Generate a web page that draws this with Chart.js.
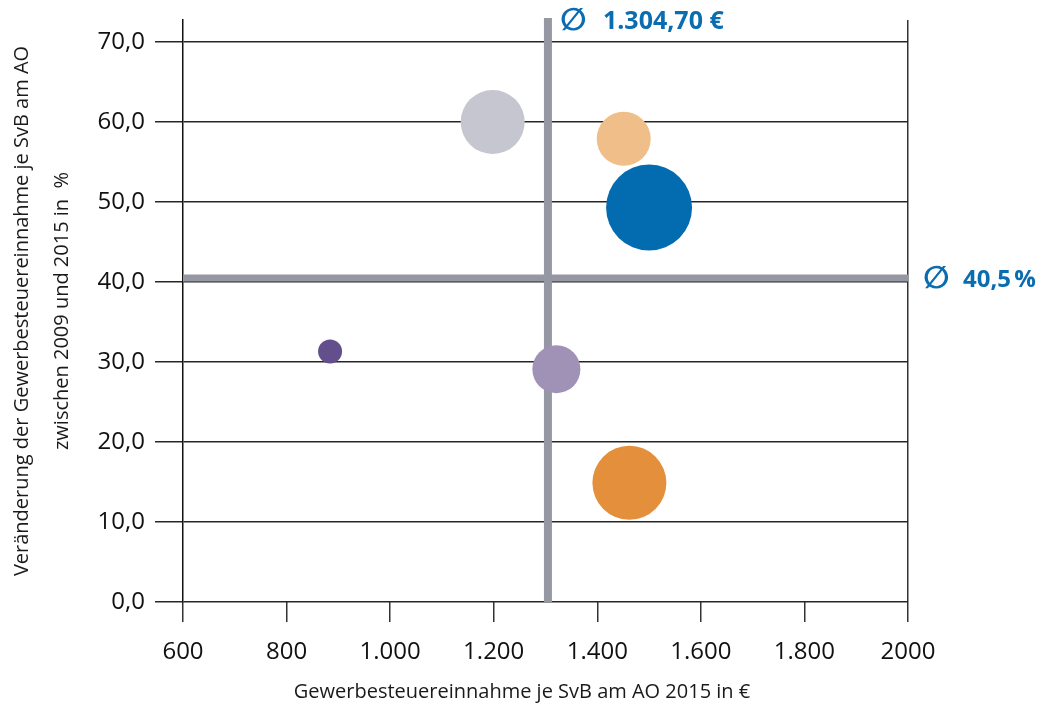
<!DOCTYPE html>
<html lang="de">
<head>
<meta charset="UTF-8">
<title>Gewerbesteuereinnahme je SvB</title>
<script src="https://cdn.jsdelivr.net/npm/chart.js"></script>
<style>
  body { margin: 0; background: #fff; }
  #wrap { width: 1047px; height: 706px; position: relative; }
</style>
</head>
<body>
<div id="wrap"><canvas id="bubbleChart"></canvas></div>
<script>
// values
const xValues = [1198, 1451, 1500, 884, 1321, 1462];
const yValues = [60.0, 57.9, 49.3, 31.3, 29.1, 14.9];
const bubbleSizes = [32, 27, 43, 12, 24, 37];
const bubbleColors = ["#c5c6d0", "#f0be88", "#036bb0", "#634f8c", "#a091b7", "#e48f3b"];

const xTicks = [600, 800, 1000, 1200, 1400, 1600, 1800, 2000];
const xTickLabels = ["600", "800", "1.000", "1.200", "1.400", "1.600", "1.800", "2000"];
const yTicks = [0, 10, 20, 30, 40, 50, 60, 70];
const yTickLabels = ["0,0", "10,0", "20,0", "30,0", "40,0", "50,0", "60,0", "70,0"];

const avgX = 1304.7;
const avgXLabel = "1.304,70 €";
const avgY = 40.5;
const avgYLabel = "40,5\u202F%";

const xTitle = "Gewerbesteuereinnahme je SvB am AO 2015 in €";
const yTitle = ["Veränderung der Gewerbesteuereinnahme je SvB am AO", "zwischen 2009 und 2015 in  %"];

const FONT = "'Open Sans', sans-serif";
const BLUE = "#0a6db1";
Chart.defaults.font.family = FONT;

const points = xValues.map((x, i) => ({ x: x, y: yValues[i], r: bubbleSizes[i] }));

// average lines, drawn under the bubbles
const avgLines = {
    id: "avgLines",
    beforeDatasetsDraw(chart) {
        const { ctx, chartArea, scales } = chart;
        const px = scales.x.getPixelForValue(avgX);
        const py = scales.y.getPixelForValue(avgY);
        ctx.save();
        ctx.strokeStyle = "#9597a3";
        ctx.lineWidth = 7;
        ctx.beginPath();
        ctx.moveTo(chartArea.left, py);
        ctx.lineTo(chartArea.right, py);
        ctx.stroke();
        ctx.lineWidth = 8;
        ctx.beginPath();
        ctx.moveTo(px, chartArea.top - 2);
        ctx.lineTo(px, chartArea.bottom);
        ctx.stroke();
        ctx.restore();
    },
    afterDatasetsDraw(chart) {
        const { ctx, chartArea, scales } = chart;
        const px = scales.x.getPixelForValue(avgX);
        const py = scales.y.getPixelForValue(avgY);
        ctx.save();
        ctx.fillStyle = BLUE;
        ctx.textBaseline = "middle";
        ctx.textAlign = "left";
        // top label
        ctx.font = "bold 31px 'DejaVu Sans'";
        ctx.fillText("∅", px + 12, chartArea.top + 2);
        ctx.font = "bold 25px " + FONT;
        ctx.fillText(avgXLabel, px + 55, chartArea.top + 2);
        // right label
        ctx.font = "bold 31px 'DejaVu Sans'";
        ctx.fillText("∅", chartArea.right + 15, py + 2);
        ctx.font = "bold 24px " + FONT;
        ctx.fillText(avgYLabel, chartArea.right + 55, py + 2);
        // x axis title
        ctx.fillStyle = "#1a1a1a";
        ctx.textAlign = "center";
        ctx.font = "20px " + FONT;
        ctx.fillText(xTitle, 522, 692);
        ctx.restore();
    }
};

new Chart(document.getElementById("bubbleChart"), {
    type: "bubble",
    data: {
        datasets: [{
            data: points,
            backgroundColor: bubbleColors,
            borderWidth: 0,
            hoverBorderWidth: 0
        }]
    },
    options: {
        responsive: true,
        maintainAspectRatio: false,
        animation: false,
        events: [],
        layout: { autoPadding: false, padding: { top: 20, right: 139, left: 0, bottom: 0 } },
        plugins: { legend: { display: false }, tooltip: { enabled: false } },
        scales: {
            x: {
                type: "linear",
                min: 600,
                max: 2000,
                afterBuildTicks: s => { s.ticks = xTicks.map(v => ({ value: v })); },
                afterFit: s => { s.height = 104; s.paddingLeft = 0; s.paddingRight = 0; },
                ticks: {
                    callback: v => xTickLabels[xTicks.indexOf(v)],
                    font: { size: 24 },
                    color: "#111",
                    padding: 16,
                    maxRotation: 0,
                    autoSkip: false
                },
                grid: {
                    color: c => (c.tick && c.tick.value === 2000) ? "#333" : "transparent",
                    tickColor: "#333",
                    tickLength: 20,
                    lineWidth: 1.5
                },
                border: { display: false }
            },
            y: {
                type: "linear",
                min: 0,
                max: 72.75,
                afterBuildTicks: s => { s.ticks = yTicks.map(v => ({ value: v })); },
                afterFit: s => { s.width = 183; s.paddingTop = 0; s.paddingBottom = 0; },
                ticks: {
                    callback: v => yTickLabels[yTicks.indexOf(v)],
                    font: { size: 24 },
                    color: "#111",
                    padding: 10
                },
                grid: { color: "#262626", lineWidth: 1.5, tickLength: 28 },
                border: { display: true, color: "#111", width: 1.5 },
                title: {
                    display: true,
                    text: yTitle,
                    color: "#1a1a1a",
                    font: { size: 20, lineHeight: 2 },
                    padding: { top: 2, bottom: 0 }
                }
            }
        }
    },
    plugins: [avgLines]
});
</script>
</body>
</html>
